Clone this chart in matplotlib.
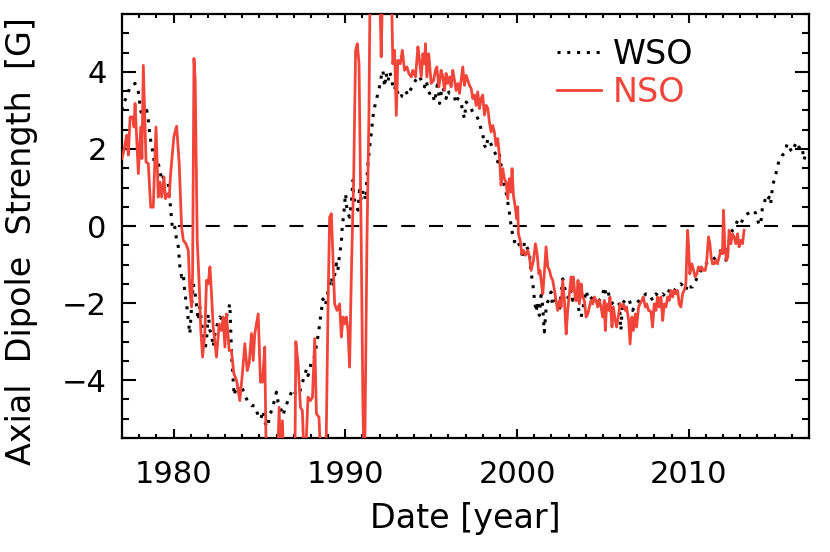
import matplotlib
matplotlib.use("Agg")
import matplotlib.pyplot as plt
from matplotlib.ticker import MultipleLocator, FixedLocator
import numpy as np

# NSO axial dipole (red line)
nso_year = [
    1977.00, 1977.15, 1977.27, 1977.37, 1977.47, 1977.62, 1977.70, 1977.76, 1977.95, 1978.09,
    1978.16, 1978.24, 1978.40, 1978.53, 1978.67, 1978.82, 1978.98, 1979.11, 1979.21, 1979.31,
    1979.44, 1979.53, 1979.66, 1979.75, 1979.83, 1980.02, 1980.18, 1980.33, 1980.47, 1980.57,
    1980.72, 1980.86, 1980.95, 1981.05, 1981.11, 1981.19, 1981.26, 1981.38, 1981.50, 1981.59,
    1981.69, 1981.82, 1981.92, 1982.02, 1982.12, 1982.21, 1982.31, 1982.40, 1982.50, 1982.66,
    1982.79, 1982.89, 1982.99, 1983.08, 1983.24, 1983.37, 1983.51, 1983.67,
    1983.86, 1984.01, 1984.15, 1984.29, 1984.40, 1984.54, 1984.64, 1984.73, 1984.93, 1985.06,
    1985.18, 1985.31, 1985.41, 1986.03, 1986.15, 1986.24, 1986.34, 1986.44, 1987.06, 1987.12,
    1987.25, 1987.39, 1987.50, 1987.64, 1987.83, 1987.97, 1988.09, 1988.22, 1988.32, 1988.47,
    1988.61, 1988.86, 1988.94, 1989.00,
    1989.09, 1989.19, 1989.28, 1989.38, 1989.52, 1989.67, 1989.77, 1989.87, 1989.96, 1990.06,
    1990.16, 1990.25, 1990.35, 1990.49, 1990.60, 1990.70, 1990.80, 1990.93, 1991.03, 1991.12,
    1991.26, 1991.38, 1991.45, 1991.99, 1992.09, 1992.19, 1992.67, 1992.77, 1992.87, 1992.97,
    1993.06, 1993.20, 1993.32, 1993.45, 1993.59, 1993.70, 1993.84, 1993.93, 1994.09, 1994.23,
    1994.32, 1994.42, 1994.52, 1994.61, 1994.67, 1994.75, 1994.86, 1995.00, 1995.14, 1995.25,
    1995.33, 1995.45, 1995.58, 1995.68, 1995.78, 1995.87, 1995.97, 1996.07, 1996.16, 1996.26,
    1996.36, 1996.45, 1996.55, 1996.65,
    1996.84, 1996.94, 1997.04, 1997.23, 1997.33, 1997.42, 1997.52, 1997.62, 1997.71, 1997.81,
    1997.91, 1998.00, 1998.10, 1998.20, 1998.30, 1998.39, 1998.49, 1998.59, 1998.68, 1998.78,
    1998.88, 1998.97, 1999.07, 1999.17, 1999.26, 1999.36, 1999.46, 1999.55, 1999.65, 1999.71,
    1999.79, 1999.88, 1999.98, 2000.04,
    2000.08, 2000.18, 2000.28, 2000.38, 2000.49, 2000.63, 2000.72, 2000.82, 2000.96, 2001.07,
    2001.17, 2001.27, 2001.34, 2001.40, 2001.50, 2001.60, 2001.69, 2001.79, 2001.89, 2001.98,
    2002.08, 2002.18, 2002.27, 2002.37, 2002.47, 2002.57, 2002.66, 2002.76, 2002.86, 2002.95,
    2003.05, 2003.15, 2003.20, 2003.28, 2003.40, 2003.48, 2003.55, 2003.63, 2003.73, 2003.82,
    2003.92, 2004.02, 2004.12, 2004.21, 2004.31, 2004.41, 2004.50, 2004.60, 2004.70, 2004.79,
    2004.89, 2004.99, 2005.08, 2005.14, 2005.22, 2005.34, 2005.41, 2005.53, 2005.61, 2005.72,
    2005.80, 2005.92, 2006.00, 2006.11, 2006.19, 2006.31, 2006.38, 2006.50, 2006.58, 2006.69,
    2006.77, 2006.89, 2006.96, 2007.08, 2007.16, 2007.27, 2007.35, 2007.47, 2007.55, 2007.66,
    2007.70, 2007.80, 2007.89, 2007.99, 2008.09, 2008.18, 2008.28, 2008.38, 2008.48, 2008.57,
    2008.67, 2008.77, 2008.86, 2008.96, 2009.06, 2009.15, 2009.25, 2009.35, 2009.44, 2009.54,
    2009.64, 2009.73, 2009.83, 2009.93, 2009.99, 2010.06, 2010.18, 2010.28, 2010.37, 2010.47,
    2010.57, 2010.65, 2010.74, 2010.84, 2010.96, 2011.03, 2011.15, 2011.23, 2011.30, 2011.38,
    2011.48, 2011.58, 2011.67, 2011.77, 2011.87, 2011.96, 2012.02, 2012.10, 2012.20, 2012.27,
    2012.35, 2012.45, 2012.54, 2012.64, 2012.74, 2012.84, 2012.93, 2013.03, 2013.13, 2013.22,
]
nso_val = [
    1.75, 2.05, 2.36, 1.84, 2.83, 2.83, 2.57, 3.18, 1.36, 2.57,
    1.75, 4.17, 1.66, 1.62, 0.49, 0.49, 2.57, 0.75, 1.14, 0.75,
    1.27, 0.71, 0.84, 0.75, 1.36, 2.32, 2.59, 1.62, -0.03, -0.37,
    -0.46, -0.63, -1.67, -2.10, -1.24, 4.35, 3.79, -0.37, -1.58, -2.71,
    -3.40, -2.80, -1.41, -1.50, -1.06, -1.75, -2.62, -2.97, -3.40, -2.54,
    -2.71, -2.36, -3.14, -2.28, -3.23, -3.23, -3.83, -4.00,
    -4.53, -3.83, -3.05, -3.75, -3.57, -2.79, -3.49, -2.79, -2.28, -4.05,
    -4.05, -3.14, -6.5, -6.5, -4.70, -6.5, -5.05, -6.5, -6.5, -3.00,
    -3.57, -4.70, -4.79, -6.5, -4.44, -4.53, -4.44, -2.92, -4.87, -4.96,
    -6.5, -6.5, -3.92, -1.93,
    0.23, 0.32, -0.80, -2.02, -2.19, -2.02, -2.88, -2.36, -2.54, -2.36,
    -2.71, -3.66, -1.32, 1.27, 4.56, 4.73, 4.21, -0.46, -4.79, -6.5,
    -0.46, 3.00, 6.5, 6.5, 4.39, 6.5, 6.5, 4.21, 4.56, 2.87,
    4.30, 4.21, 4.56, 4.04, 4.13, 3.96, 3.87, 4.04, 3.87, 4.65,
    4.30, 3.87, 4.47, 4.21, 4.73, 3.87, 4.47, 3.70, 3.78, 4.04,
    4.13, 3.61, 4.04, 3.87, 3.52, 3.96, 3.70, 3.87, 3.61, 4.04,
    3.78, 3.52, 3.70, 3.44,
    4.13, 3.65, 3.91, 3.65, 3.57, 3.31, 3.40, 3.13, 3.48, 3.05,
    3.31, 3.40, 2.88, 3.13, 3.05, 2.70, 2.44, 2.61, 2.44, 2.09,
    2.27, 1.84, 1.06, 1.49, 1.23, 1.14, 0.71, 1.23, 0.88, 1.49,
    0.80, 0.54, 0.19, 0.50,
    -0.20, -0.37, -0.72, -0.63, -0.76, -0.63, -0.80, -1.15, -0.89, -0.46,
    -0.72, -1.24, -1.15, -1.41, -1.76, -1.15, -0.54, -1.06, -1.15, -1.32,
    -1.41, -1.67, -1.93, -2.19, -1.93, -2.10, -1.41, -1.93, -2.80, -2.19,
    -1.76, -1.32, -1.67, -1.32, -1.93, -1.93, -1.41, -2.02, -1.50, -1.84,
    -1.93, -2.36, -2.28, -2.10, -1.93, -2.02, -1.84, -1.93, -2.10, -1.93,
    -2.10, -2.36, -1.93, -2.71, -2.02, -2.19, -1.84, -2.62, -2.10, -2.45,
    -2.62, -2.28, -2.02, -2.10, -2.02, -2.19, -2.10, -2.45, -3.06, -2.36,
    -2.71, -2.28, -2.62, -2.10, -2.02, -1.93, -1.84, -2.10, -2.02, -2.19,
    -2.19, -2.23, -2.62, -2.02, -2.19, -1.84, -2.10, -1.84, -2.45, -2.02,
    -2.10, -1.84, -1.93, -1.67, -1.84, -1.67, -1.76, -1.67, -2.02, -2.10,
    -1.76, -1.67, -1.50, -0.11, -0.54, -1.24, -0.98, -1.15, -1.32, -1.24,
    -1.06, -1.15, -1.06, -1.15, -1.15, -0.98, -0.28, -0.46, -0.80, -0.98,
    -0.98, -0.89, -0.98, -0.80, -0.63, -0.72, 0.41, -0.54, -0.89, -0.80,
    -0.11, -0.46, -0.20, -0.28, -0.46, -0.20, -0.54, -0.37, -0.46, -0.11,
]

# WSO axial dipole (black dotted)
wso_year = [
    1977.00, 1977.08, 1977.27, 1977.47, 1977.76, 1977.95, 1978.09, 1978.24, 1978.44, 1978.53,
    1978.63, 1978.76, 1978.92, 1979.07, 1979.21, 1979.31, 1979.40, 1979.54, 1979.69, 1979.79,
    1979.89, 1979.95, 1980.08, 1980.18, 1980.28, 1980.37, 1980.47, 1980.57, 1980.66, 1980.76,
    1980.86, 1980.95, 1981.05, 1981.15, 1981.24, 1981.30, 1981.44, 1981.53, 1981.69, 1981.82,
    1981.92, 1982.02, 1982.12, 1982.21, 1982.31, 1982.41, 1982.50, 1982.70, 1982.89, 1983.08,
    1983.28, 1983.38, 1983.53, 1983.67, 1983.80, 1983.96, 1984.15, 1984.35, 1984.54, 1984.73,
    1984.93, 1985.08, 1985.22, 1985.31, 1985.47, 1985.60, 1985.80, 1985.99, 1986.09, 1986.18,
    1986.38, 1986.48, 1986.63, 1986.77, 1986.96, 1987.15, 1987.35, 1987.44, 1987.64, 1987.74,
    1987.83, 1988.03, 1988.18, 1988.32, 1988.45, 1988.57, 1988.70, 1988.84, 1988.99, 1989.19,
    1989.28, 1989.48, 1989.57, 1989.67, 1989.77, 1989.83, 1989.90, 1989.96, 1990.02, 1990.10,
    1990.16, 1990.25, 1990.35, 1990.45, 1990.49, 1990.60, 1990.74, 1990.83, 1990.93, 1991.03,
    1991.12, 1991.18, 1991.32, 1991.42, 1991.51, 1991.61, 1991.71, 1991.80, 1991.90, 1991.99,
    1992.09, 1992.19, 1992.29, 1992.38, 1992.48, 1992.58, 1992.68, 1992.77, 1992.87, 1992.97,
    1993.06, 1993.16, 1993.26, 1993.35, 1993.51, 1993.64, 1993.78, 1993.93, 1994.09, 1994.23,
    1994.32, 1994.42, 1994.52, 1994.61, 1994.71, 1994.81, 1994.90, 1995.00, 1995.10, 1995.19,
    1995.29, 1995.39, 1995.49, 1995.58, 1995.68, 1995.78, 1995.87, 1995.97, 1996.07, 1996.16,
    1996.26, 1996.36, 1996.45, 1996.55, 1996.74, 1996.84, 1996.94, 1997.04, 1997.23, 1997.42,
    1997.62, 1997.81, 1997.91, 1998.00, 1998.10, 1998.20, 1998.30, 1998.39, 1998.59, 1998.78,
    1998.88, 1998.97, 1999.07, 1999.17, 1999.26, 1999.36, 1999.46, 1999.55, 1999.65, 1999.75,
    1999.85, 1999.94, 2000.04, 2000.14, 2000.23, 2000.33, 2000.43, 2000.52, 2000.62, 2000.72,
    2000.81, 2000.91, 2001.01, 2001.11, 2001.20, 2001.30, 2001.40, 2001.49, 2001.59, 2001.69,
    2001.78, 2001.88, 2001.98, 2002.07, 2002.27, 2002.46, 2002.66, 2002.75, 2002.85, 2003.04,
    2003.15, 2003.24, 2003.34, 2003.44, 2003.53, 2003.63, 2003.73, 2003.82, 2003.92, 2004.02,
    2004.12, 2004.21, 2004.41, 2004.60, 2004.79, 2004.99, 2005.08, 2005.18, 2005.28, 2005.38,
    2005.57, 2005.76, 2005.96, 2006.05, 2006.15, 2006.34, 2006.54, 2006.73, 2006.83, 2006.93,
    2007.12, 2007.31, 2007.51, 2007.70, 2007.89, 2008.09, 2008.28, 2008.48, 2008.67, 2008.86,
    2008.96, 2009.15, 2009.35, 2009.54, 2009.73, 2009.83, 2009.93, 2010.03, 2010.22, 2010.41,
    2010.61, 2010.80, 2011.00, 2011.19, 2011.38, 2011.58, 2011.77, 2011.96, 2012.16, 2012.35,
    2012.54, 2012.70, 2012.84, 2013.03, 2013.22, 2013.42, 2013.61, 2013.80, 2013.90, 2014.10,
    2014.19, 2014.29, 2014.39, 2014.48, 2014.58, 2014.68, 2014.77, 2014.83, 2014.91, 2015.03,
    2015.16, 2015.26, 2015.36, 2015.45, 2015.55, 2015.65, 2015.74, 2015.84, 2015.94, 2016.03,
    2016.13, 2016.23, 2016.32, 2016.42, 2016.52, 2016.61, 2016.71, 2016.81, 2017.00,
]
wso_val = [
    3.00, 3.18, 3.35, 3.61, 3.70, 3.48, 3.00, 2.75, 3.00, 2.75,
    2.32, 2.01, 1.53, 1.70, 1.44, 1.18, 1.27, 1.18, 1.10, 0.67,
    0.15, -0.11, -0.03, -0.37, -0.54, -1.06, -1.32, -1.24, -1.76, -2.02,
    -2.45, -2.80, -2.10, -1.50, -1.67, -1.93, -2.45, -2.10, -2.71, -3.23,
    -2.97, -2.28, -2.71, -2.80, -3.14, -2.80, -2.62, -2.36, -2.45, -2.36,
    -2.02, -3.36, -4.40, -4.14, -4.23, -4.14, -4.40, -4.57, -4.66, -4.66,
    -4.92, -5.01, -4.79, -5.09, -5.22, -4.92, -4.66, -4.31, -4.57, -4.66,
    -4.92, -4.74, -4.57, -4.40, -4.23, -4.40, -4.31, -4.14, -3.88, -3.71,
    -3.88, -3.53, -3.45, -3.10, -2.75, -2.32, -1.89, -2.06, -1.71, -1.32,
    -1.58, -0.98, -1.15, -0.72, -0.46, 0.06, 0.23, 0.58, 0.84, 0.41,
    0.32, 0.23, 0.58, 1.19, 0.75, 0.58, 0.41, 0.93, 0.67, 0.93,
    0.84, 0.67, 1.62, 2.05, 2.40, 2.83, 3.09, 3.26, 3.44, 3.61,
    3.87, 4.04, 3.61, 3.96, 3.74, 4.00, 3.87, 3.61, 3.52, 3.78,
    3.44, 3.31, 3.35, 3.48, 3.52, 3.39, 3.52, 3.65, 3.78, 3.87,
    3.90, 3.78, 3.74, 3.61, 3.78, 3.57, 3.44, 3.48, 3.44, 3.22,
    3.44, 3.78, 3.18, 3.44, 3.61, 3.44, 3.31, 3.52, 3.44, 3.44,
    3.39, 3.35, 3.18, 3.31, 3.22, 2.96, 2.79, 3.22, 3.13, 2.96,
    2.88, 2.70, 2.49, 2.40, 2.10, 2.01, 2.27, 2.23, 2.01, 1.84,
    1.66, 1.88, 1.58, 1.32, 1.06, 0.88, 0.62, 0.36, 0.02, -0.24,
    -0.41, -0.33, -0.41, -0.50, -0.59, -0.85, -0.41, -0.50, -0.59, -0.67,
    -1.20, -1.45, -1.89, -2.23, -1.97, -2.32, -1.80, -2.06, -2.75, -2.15,
    -1.97, -1.89, -1.71, -2.06, -1.89, -2.23, -1.37, -1.54, -1.80, -1.89,
    -1.67, -1.93, -1.84, -1.84, -1.93, -2.28, -2.36, -2.19, -1.93, -1.67,
    -1.84, -1.93, -1.84, -1.84, -1.93, -1.76, -1.58, -1.76, -1.67, -1.84,
    -2.02, -2.10, -2.02, -2.71, -1.93, -2.02, -1.93, -2.19, -2.10, -2.02,
    -1.93, -1.84, -1.76, -1.76, -1.93, -1.76, -1.84, -1.76, -1.84, -1.67,
    -1.58, -1.67, -1.58, -1.50, -1.58, -1.67, -1.50, -1.58, -1.58, -1.41,
    -1.24, -1.06, -0.98, -0.89, -0.89, -0.80, -0.72, -0.54, -0.89, -0.37,
    -0.11, -0.02, 0.15, 0.06, 0.24, 0.32, 0.36, 0.41, 0.32, 0.02,
    0.06, 0.49, 0.58, 0.75, 0.67, 0.75, 0.58, 0.84, 1.10, 1.27,
    1.53, 1.71, 1.75, 1.84, 1.88, 2.01, 2.14, 2.10, 1.97, 1.92,
    2.05, 2.14, 2.01, 2.05, 1.97, 2.01, 1.71, 1.88, 1.84,
]

x_major = [1980, 1990, 2000, 2010]
y_major = [-4, -2, 0, 2, 4]
red = '#f2453a'

plt.rcParams['font.family'] = 'DejaVu Sans'
fig = plt.figure(figsize=(8.3, 5.52), dpi=100)
ax = fig.add_axes([0.147, 0.2065, 0.8277, 0.768])

ax.axhline(0, color='black', lw=1.5, ls=(0, (6.7, 6.7)), zorder=1)
ax.plot(wso_year, wso_val, color='black', lw=2.2, ls=(0, (1, 2.2)), label='WSO', zorder=2)
ax.plot(nso_year, nso_val, color=red, lw=2.0, label='NSO', zorder=3)

ax.set_xlim(1977, 2017)
ax.set_ylim(-5.5, 5.5)
ax.xaxis.set_major_locator(FixedLocator(x_major))
ax.xaxis.set_minor_locator(MultipleLocator(1))
ax.yaxis.set_major_locator(FixedLocator(y_major))
ax.yaxis.set_minor_locator(MultipleLocator(0.5))

ax.tick_params(axis='both', which='both', direction='in', top=True, right=True,
               width=1.5, labelsize=22)
ax.tick_params(axis='x', which='major', length=6.2, pad=16)
ax.tick_params(axis='x', which='minor', length=3.1)
ax.tick_params(axis='y', which='major', length=10, pad=11)
ax.tick_params(axis='y', which='minor', length=5)
for s in ax.spines.values():
    s.set_linewidth(1.6)

ax.set_xlabel('Date [year]', fontsize=24)
ax.set_ylabel('Axial  Dipole  Strength  [G]', fontsize=24)
ax.xaxis.set_label_coords(0.5, -0.15)
ax.yaxis.set_label_coords(-0.122, 0.465)

leg = ax.legend(loc='upper left', bbox_to_anchor=(0.590, 1.015), frameon=False,
                fontsize=24, handlelength=1.3, handletextpad=0.36,
                labelspacing=0.15, labelcolor='linecolor')

fig.savefig('out.png', dpi=100)
